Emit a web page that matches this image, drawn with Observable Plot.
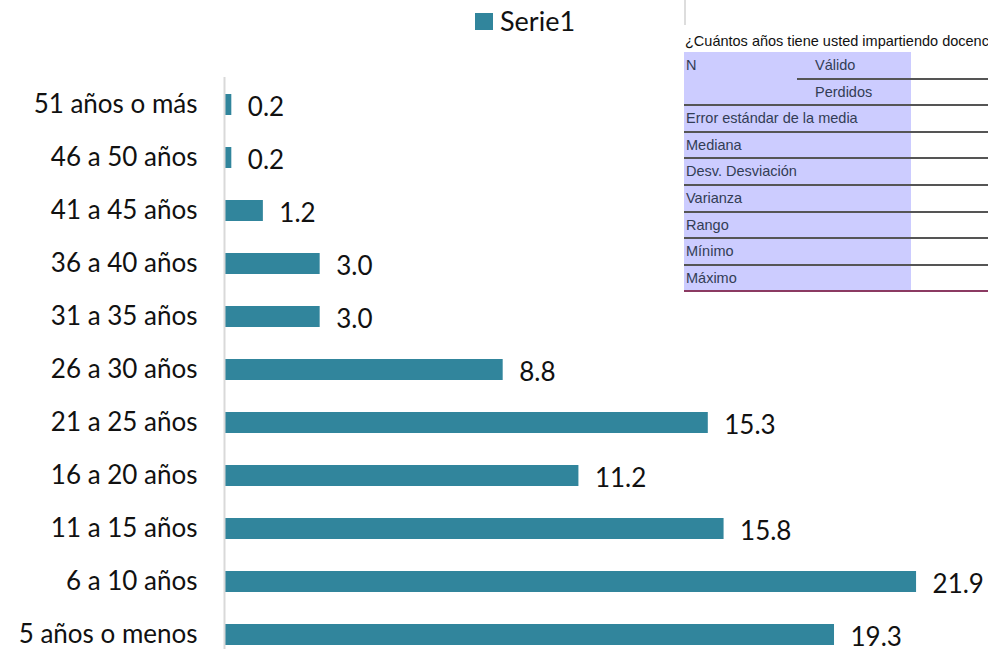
<!DOCTYPE html>
<html>
<head>
<meta charset="utf-8">
<script src="https://cdn.jsdelivr.net/npm/d3@7"></script>
<script src="https://cdn.jsdelivr.net/npm/@observablehq/plot@0.6"></script>
<style>
  html, body { margin: 0; padding: 0; background: #fff; }
  #wrap { position: relative; width: 988px; height: 649px; overflow: hidden; font-family: Lato, "Open Sans", sans-serif; }
  #legend { position: absolute; left: 475px; top: 5px; font-size: 27px; line-height: 32px; color: #111; display: flex; align-items: center; }
  #legend .sw { width: 18px; height: 17px; background: #31859C; margin-right: 7px; }
  #tbl { position: absolute; left: 684px; top: 0; width: 304px; height: 300px; font-family: "Liberation Sans", Arial, sans-serif; font-size: 14.5px; }
  #tbl .vline { position: absolute; left: 0; top: 0; width: 2px; height: 25px; background: #ddd; }
  #tbl .title { position: absolute; left: 1px; top: 33px; color: #111; white-space: nowrap; }
  #tbl .fill { position: absolute; left: 0; width: 227px; background: #ccccff; }
  #tbl .line { position: absolute; height: 2px; background: #555; right: 0; }
  #tbl .lbl { position: absolute; color: #333d55; white-space: nowrap; line-height: 26px; }
</style>
</head>
<body>
<div id="wrap">
  <div id="chart"></div>
  <div id="legend"><div class="sw"></div><span id="legtext"></span></div>
  <div id="tbl"></div>
</div>
<script>
const seriesName = "Serie1";
const categories = ["51 años o más","46 a 50 años","41 a 45 años","36 a 40 años","31 a 35 años","26 a 30 años","21 a 25 años","16 a 20 años","11 a 15 años","6 a 10 años","5 años o menos"];
const values = [0.2, 0.2, 1.2, 3.0, 3.0, 8.8, 15.3, 11.2, 15.8, 21.9, 19.3];

const tableTitle = "¿Cuántos años tiene usted impartiendo docencia?";
const tableRowLabels = ["N", "", "Error estándar de la media", "Mediana", "Desv. Desviación", "Varianza", "Rango", "Mínimo", "Máximo"];
const tableSubLabels = ["Válido", "Perdidos"];

const data = categories.map((c, i) => ({category: c, value: values[i]}));

const plot = Plot.plot({
  width: 988,
  height: 649,
  marginLeft: 225,
  marginRight: 0,
  marginTop: 77,
  marginBottom: -14,
  style: {fontFamily: "Lato, 'Open Sans', sans-serif", background: "white"},
  x: {domain: [0, 24.18], axis: null},
  y: {domain: categories, paddingInner: 0.6, paddingOuter: 0.3, label: null},
  marks: [
    Plot.barX(data, {x: "value", y: "category", fill: "#31859C"}),
    Plot.ruleX([0], {stroke: "#d9d9d9", strokeWidth: 2, dx: -1}),
    Plot.text(data, {x: "value", y: "category", text: d => d.value.toFixed(1), textAnchor: "start", dx: 16, dy: 3, fontSize: 26, fill: "#111"}),
    Plot.axisY({tickSize: 0, tickPadding: 28, fontSize: 26, label: null, color: "#111"})
  ]
});
document.getElementById("chart").appendChild(plot);
document.getElementById("legtext").textContent = seriesName;

// SPSS-style table overlay
const tbl = document.getElementById("tbl");
const rowTop = 52, rowH = 26.6;
tbl.innerHTML += `<div class="vline"></div><div class="title">${tableTitle}</div>`;
tbl.innerHTML += `<div class="fill" style="top:${rowTop}px;height:${rowH * tableRowLabels.length}px"></div>`;
tableRowLabels.forEach((lab, i) => {
  const top = rowTop + i * rowH;
  if (lab) tbl.innerHTML += `<div class="lbl" style="left:2px;top:${top}px">${lab}</div>`;
  if (i > 0) {
    const left = i === 1 ? 113 : 0;
    tbl.innerHTML += `<div class="line" style="left:${left}px;top:${top - 1}px"></div>`;
  }
});
tableSubLabels.forEach((lab, i) => {
  tbl.innerHTML += `<div class="lbl" style="left:131px;top:${rowTop + i * rowH}px">${lab}</div>`;
});
tbl.innerHTML += `<div class="line" style="left:0;top:${rowTop + tableRowLabels.length * rowH - 1}px;background:#8b3a62"></div>`;
</script>
</body>
</html>
